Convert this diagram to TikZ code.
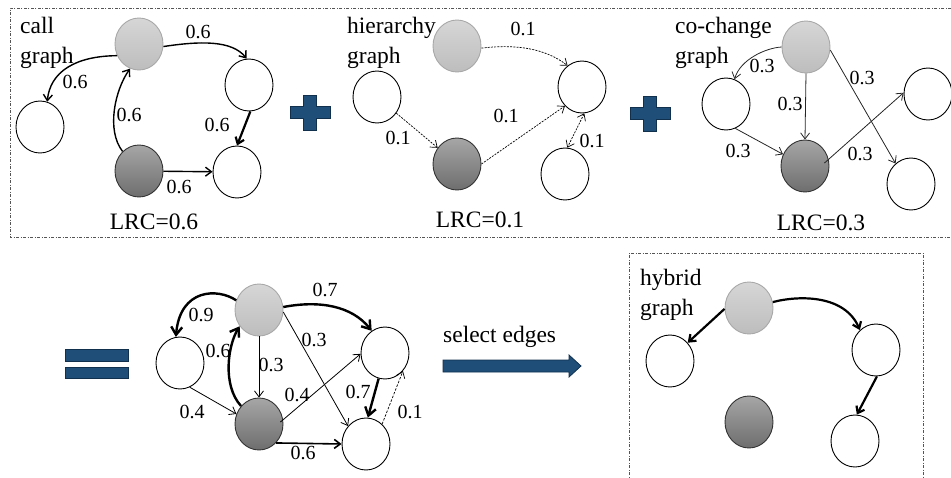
\documentclass[tikz,border=0pt]{standalone}
\usepackage{fontspec}
\setmainfont{Liberation Serif}
\usetikzlibrary{shapes.geometric,arrows.meta}
\definecolor{blu}{HTML}{1F4E79}
\definecolor{bluedge}{HTML}{10304D}
\definecolor{lgtop}{HTML}{D6D6D6}
\definecolor{lgbot}{HTML}{BDBDBD}
\definecolor{lgborder}{HTML}{A8A8A8}
\definecolor{dktop}{HTML}{A6A6A6}
\definecolor{dkbot}{HTML}{6E6E6E}
\definecolor{dkborder}{HTML}{333333}
\definecolor{frame}{HTML}{555555}
\newcommand{\labfont}{\fontsize{20}{24}\selectfont}
\newcommand{\ttlfont}{\fontsize{23.5}{28}\selectfont}
\tikzset{
  nd/.style={ellipse, minimum width=48pt, minimum height=52pt, inner sep=0pt, line width=0.9pt},
  wn/.style={nd, draw=black, fill=white},
  ln/.style={nd, draw=lgborder, top color=lgtop, bottom color=lgbot},
  dn/.style={nd, draw=dkborder, top color=dktop, bottom color=dkbot},
  lab/.style={inner sep=0pt, font=\labfont},
  ttl/.style={inner sep=0pt, anchor=base west, font=\ttlfont},
  lrc/.style={inner sep=0pt, anchor=base, font=\ttlfont},
  tipS/.style={-{Straight Barb[length=6pt,width=9pt]}},
  tipL/.style={-{Straight Barb[length=8pt,width=11pt]}},
  calle/.style={draw=black, line width=1.4pt, tipS},
  callT/.style={draw=black, line width=2.2pt, tipS},
  hiere/.style={draw=black, line width=0.7pt, dash pattern=on 2pt off 1.2pt, tipS},
  coche/.style={draw=black!85, line width=0.8pt, tipS},
  thinE/.style={draw=black, line width=0.8pt, tipS},
  thickE/.style={draw=black, line width=2.4pt, tipL},
  midE/.style={draw=black, line width=1.6pt, tipS},
  dashE/.style={draw=black, line width=0.7pt, dash pattern=on 2.5pt off 1.5pt, tipS},
  frm/.style={draw=frame, line width=0.8pt, dash pattern=on 3pt off 1.5pt on 1pt off 1.5pt},
  bluesh/.style={fill=blu, draw=bluedge, line width=0.8pt},
}
\begin{document}
\begin{tikzpicture}[x=1pt,y=-1pt]
\useasboundingbox (0,0) rectangle (951,477);

% frames
\draw[frm] (958,8) -- (10,8) -- (10,237) -- (958,237);
\draw[frm] (629,482) -- (629,253) -- (923,253) -- (923,482);

% ---------------- call graph ----------------
\node[ttl] (t1a) at (20,33) {call};
\node[ttl] (t1b) at (20,63) {graph};
\node[ln] (a1) at (139,44) {};
\node[wn] (a2) at (249,85) {};
\node[wn] (a3) at (40,127) {};
\node[dn] (a4) at (139,171) {};
\node[wn] (a5) at (237,172) {};
\draw[calle] (a1.-6) .. controls (200,41) and (232,40) .. (a2.95);
\draw[calle] (a1.208) .. controls (75,56) and (50,72) .. (a3.74);
\draw[calle] (a4.130) .. controls (106,130) and (115,90) .. (a1.250);
\draw[callT] (a2.-87) -- (a5.90);
\draw[calle] (a4) -- (a5);
\node[lab] (la1) at (198,32) {0.6};
\node[lab] (la2) at (75,82) {0.6};
\node[lab] (la3) at (129,115) {0.6};
\node[lab] (la4) at (217,125) {0.6};
\node[lab] (la5) at (179,187) {0.6};
\node[lrc] (lrc1) at (154,229) {LRC=0.6};

% plus 1
\draw[bluesh] (303.5,95) -- (316.5,95) -- (316.5,106.5) -- (330,106.5) -- (330,118.5)
  -- (316.5,118.5) -- (316.5,130) -- (303.5,130) -- (303.5,118.5) -- (290.5,118.5)
  -- (290.5,106.5) -- (303.5,106.5) -- cycle;

% ---------------- hierarchy graph ----------------
\node[ttl] (t2a) at (347,33) {hierarchy};
\node[ttl] (t2b) at (347,63) {graph};
\node[ln] (b1) at (457,46) {};
\node[wn] (b2) at (582,87) {};
\node[wn] (b3) at (377,97) {};
\node[dn] (b4) at (457,164) {};
\node[wn] (b5) at (565,174) {};
\draw[hiere] (b1.-5) .. controls (515,44) and (545,48) .. (b2.124);
\draw[hiere] (b3) -- (b4);
\draw[hiere] (b4.east) -- (b2.228);
\draw[hiere, {Straight Barb[length=6pt,width=9pt]}-{Straight Barb[length=6pt,width=9pt]}] (b2.-85) -- (b5.85);
\node[lab] (lb1) at (523,29) {0.1};
\node[lab] (lb2) at (398,138) {0.1};
\node[lab] (lb3) at (506,116) {0.1};
\node[lab] (lb4) at (592,141) {0.1};
\node[lrc] (lrc2) at (480,227) {LRC=0.1};

% plus 2
\draw[bluesh] (643.5,96) -- (656.5,96) -- (656.5,107.5) -- (670,107.5) -- (670,119.5)
  -- (656.5,119.5) -- (656.5,131) -- (643.5,131) -- (643.5,119.5) -- (630.5,119.5)
  -- (630.5,107.5) -- (643.5,107.5) -- cycle;

% ---------------- co-change graph ----------------
\node[ttl] (t3a) at (675,33) {co-change};
\node[ttl] (t3b) at (675,63) {graph};
\node[ln] (c1) at (806,47) {};
\node[wn] (c2) at (726,104) {};
\node[dn] (c3) at (805,166) {};
\node[wn] (c4) at (928,94) {};
\node[wn] (c5) at (911,184) {};
\draw[coche] (c1.west) .. controls (765,48) and (740,60) .. (c2.71);
\draw[coche] (c1.south) -- (c3.north);
\draw[coche] (c1.-7) -- (c5.127);
\draw[coche] (c2.-69) -- (c3.152);
\draw[coche] ([shift={(-5,-3)}]c3.east) -- (c4.177);
\node[lab] (lc1) at (762,66) {0.3};
\node[lab] (lc2) at (790,104) {0.3};
\node[lab] (lc3) at (862,78) {0.3};
\node[lab] (lc4) at (738,151) {0.3};
\node[lab] (lc5) at (860,154) {0.3};
\node[lrc] (lrc3) at (821,230) {LRC=0.3};

% ---------------- equals ----------------
\draw[bluesh] (65,349) rectangle (128,361);
\draw[bluesh] (65,367) rectangle (128,378);

% ---------------- merged graph ----------------
\node[ln] (d1) at (259,310) {};
\node[wn] (d2) at (180,363) {};
\node[dn] (d3) at (259,424) {};
\node[wn] (d4) at (385,353) {};
\node[wn] (d5) at (366,444) {};
\draw[thickE] (d1.157) .. controls (218,288) and (180,288) .. (d2.99);
\draw[thickE] (d3.135) .. controls (222,385) and (228,345) .. (d1.220);
\draw[thinE] (d1.south) -- (d3.north);
\draw[thickE] (d1.7) .. controls (320,300) and (352,306) .. (d4.121);
\draw[thinE] (d1.-5) -- (d5.135);
\draw[thinE] (d2.-68) -- (d3.156);
\draw[thinE] ([shift={(-3,-2)}]d3.east) -- (d4.182);
\draw[midE] (d3.-48) -- (d5.west);
\draw[thickE] (d4.-104) -- (d5.86);
\draw[dashE] (d5.51) -- (d4.-45);
\node[lab] (ld1) at (201,315) {0.9};
\node[lab] (ld2) at (325,290) {0.7};
\node[lab] (ld3) at (218,351) {0.6};
\node[lab] (ld4) at (271,365) {0.3};
\node[lab] (ld5) at (314,340) {0.3};
\node[lab] (ld6) at (192,412) {0.4};
\node[lab] (ld7) at (297,395) {0.4};
\node[lab] (ld8) at (358,392) {0.7};
\node[lab] (ld9) at (410,412) {0.1};
\node[lab] (ld10) at (303,453) {0.6};

% ---------------- select edges arrow ----------------
\node[ttl] (sel) at (443,342) {select edges};
\draw[bluesh] (443,360) -- (569,360) -- (569,355) -- (581,366) -- (569,377) -- (569,372) -- (443,372) -- cycle;

% ---------------- hybrid graph ----------------
\node[ttl] (t4a) at (640,285) {hybrid};
\node[ttl] (t4b) at (640,315) {graph};
\node[ln] (h1) at (749,308) {};
\node[wn] (h2) at (670,361) {};
\node[dn] (h3) at (749,422) {};
\node[wn] (h4) at (876,350) {};
\node[wn] (h5) at (855,441) {};
\draw[callT] (h1.182) -- (h2.46);
\draw[callT] (h1.14) .. controls (800,295) and (845,295) .. (h4.129);
\draw[callT] (h4.-88) -- (h5.86);
\end{tikzpicture}
\end{document}
